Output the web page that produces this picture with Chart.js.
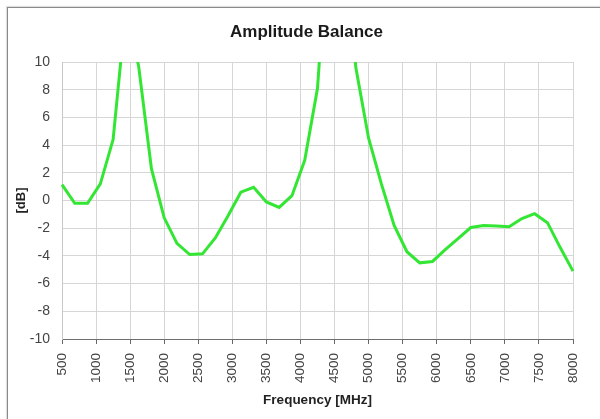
<!DOCTYPE html>
<html>
<head>
<meta charset="utf-8">
<script src="https://cdn.jsdelivr.net/npm/chart.js@4/dist/chart.umd.min.js"></script>
<style>
  html, body { margin: 0; padding: 0; background: #fff; width: 600px; height: 419px; overflow: hidden; }
  #frame { position: absolute; left: 7px; top: 7px; width: 700px; height: 500px;
           border-left: 1px solid #8a8a8a; border-top: 1px solid #8a8a8a;
           box-shadow: -1px -1px 1px rgba(0,0,0,0.12); }
  #wrap { position: absolute; left: 8px; top: 8px; width: 597px; height: 411px; }
</style>
</head>
<body>
<div id="frame"></div>
<div id="wrap"><canvas id="c" width="597" height="411"></canvas></div>
<script>
// Frequency sample points [MHz]
const frequencies = [500, 687.5, 875, 1062.5, 1250, 1437.5, 1625, 1812.5, 2000, 2187.5,
  2375, 2562.5, 2750, 2937.5, 3125, 3312.5, 3500, 3687.5, 3875, 4062.5,
  4250, 4437.5, 4625, 4812.5, 5000, 5187.5, 5375, 5562.5, 5750, 5937.5,
  6125, 6312.5, 6500, 6687.5, 6875, 7062.5, 7250, 7437.5, 7625, 7812.5, 8000];
// Amplitude balance [dB] (peaks run beyond the 10 dB axis limit)
const amplitudeBalance = [1.15, -0.2, -0.2, 1.2, 4.4, 13.8, 9.7, 2.3, -1.25, -3.1,
  -3.9, -3.85, -2.7, -1.1, 0.6, 0.95, -0.1, -0.5, 0.35, 2.9,
  8.1, 21.5, 20, 9.6, 4.5, 1.2, -1.8, -3.7, -4.5, -4.4,
  -3.55, -2.75, -1.95, -1.8, -1.85, -1.9, -1.3, -0.95, -1.6, -3.4, -5.1];
const xTicks = [500, 1000, 1500, 2000, 2500, 3000, 3500, 4000, 4500, 5000, 5500, 6000, 6500, 7000, 7500, 8000];
const yTicks = [-10, -8, -6, -4, -2, 0, 2, 4, 6, 8, 10];

const points = frequencies.map((f, i) => ({ x: f, y: amplitudeBalance[i] }));
const FONT = "'Liberation Sans', Arial, sans-serif";

new Chart(document.getElementById('c'), {
  type: 'line',
  data: {
    datasets: [{
      label: 'Amplitude Balance',
      data: points,
      borderColor: '#33e633',
      borderWidth: 3,
      pointRadius: 0,
      tension: 0,
      fill: false,
      clip: { left: 2, right: 2, top: 0, bottom: 2 }
    }]
  },
  options: {
    responsive: false,
    animation: false,
    devicePixelRatio: 1,
    layout: { padding: 0 },
    plugins: {
      legend: { display: false },
      tooltip: { enabled: false },
      title: {
        display: true,
        text: 'Amplitude Balance',
        color: '#1a1a1a',
        font: { family: FONT, size: 17, weight: 'bold' },
        padding: { top: 14, bottom: 19.6 }
      }
    },
    scales: {
      x: {
        type: 'linear',
        min: 500, max: 8000,
        afterBuildTicks: (s) => { s.ticks = xTicks.map(v => ({ value: v })); },
        afterFit: (s) => { s.height = 80; },
        ticks: {
          minRotation: 90, maxRotation: 90,
          padding: 9,
          color: '#444',
          font: { family: FONT, size: 13.5 },
          callback: (v) => String(v)
        },
        grid: { color: '#d6d6d6', lineWidth: 1, drawTicks: true, tickLength: 5, tickColor: '#666' },
        border: { display: true, color: '#6e6e6e', width: 1 },
        title: {
          display: true,
          text: 'Frequency [MHz]',
          color: '#222',
          font: { family: FONT, size: 13.5, weight: 'bold' },
          padding: { top: 0, bottom: 11 }
        }
      },
      y: {
        type: 'linear',
        min: -10, max: 10,
        afterBuildTicks: (s) => { s.ticks = yTicks.map(v => ({ value: v })); },
        afterFit: (s) => { s.width = 54; },
        ticks: {
          padding: 12,
          color: '#444',
          font: { family: FONT, size: 14 },
          callback: (v) => String(v)
        },
        grid: { color: '#d6d6d6', lineWidth: 1, drawTicks: false },
        border: { display: true, color: '#c8c8c8', width: 1 },
        title: {
          display: true,
          text: '[dB]',
          color: '#222',
          font: { family: FONT, size: 13, weight: 'bold' },
          padding: { top: 6, bottom: 0 }
        }
      },
      yRight: {
        type: 'linear',
        position: 'right',
        min: -10, max: 10,
        afterFit: (s) => { s.width = 32; },
        ticks: { display: false },
        grid: { display: false, drawTicks: false },
        border: { display: false }
      }
    }
  }
});
</script>
</body>
</html>
